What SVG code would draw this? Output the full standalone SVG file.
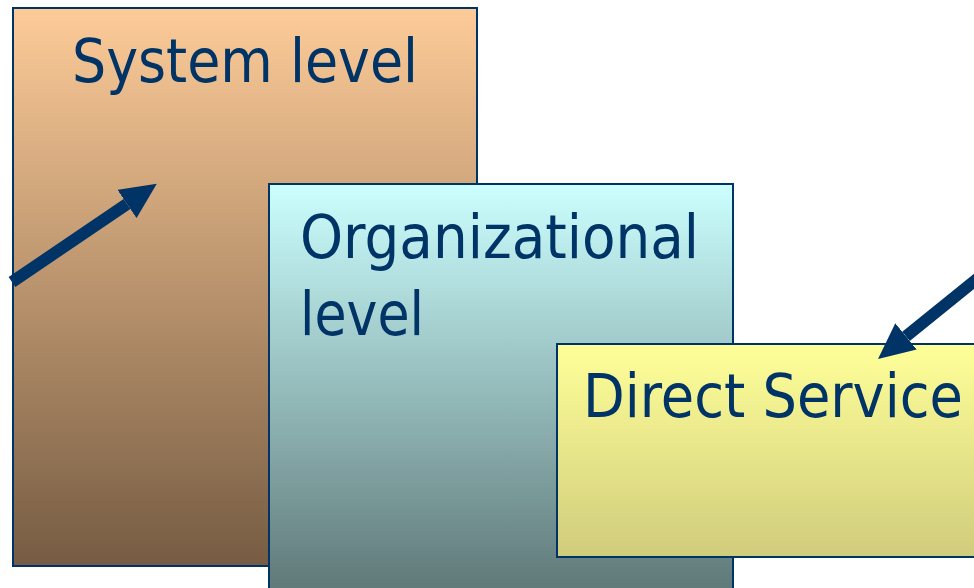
<svg xmlns="http://www.w3.org/2000/svg" width="974" height="588" viewBox="0 0 974 588">
<style>
.box{stroke:#003366;stroke-width:2}
.lbl{font-family:"DejaVu Sans Condensed","DejaVu Sans","Liberation Sans",sans-serif;font-size:61px;fill:#003366}
.arr{stroke:#003366;stroke-width:12;fill:none}
</style>
<defs>
<linearGradient id="gO" x1="0" y1="0" x2="0" y2="1"><stop offset="0" stop-color="#FDCB98"/><stop offset="1" stop-color="#765C43"/></linearGradient>
<linearGradient id="gC" x1="0" y1="0" x2="0" y2="1"><stop offset="0" stop-color="#CCFFFF"/><stop offset="1" stop-color="#5C7474"/></linearGradient>
<linearGradient id="gY" x1="0" y1="0" x2="0" y2="1"><stop offset="0" stop-color="#FFFF99"/><stop offset="1" stop-color="#D0CC7C"/></linearGradient>
<marker id="ah" markerUnits="userSpaceOnUse" markerWidth="36" markerHeight="34" refX="0" refY="17" orient="auto" viewBox="0 0 36 34"><path d="M0,0 L36,17 L0,34 z" fill="#003366"/></marker>
</defs>
<g id="system">
<rect class="box" x="13" y="8" width="464" height="558" fill="url(#gO)"/>
<text class="lbl" x="72" y="82" textLength="346" lengthAdjust="spacingAndGlyphs">System level</text>
</g>
<g id="organizational">
<rect class="box" x="269" y="184" width="464" height="420" fill="url(#gC)"/>
<text class="lbl" x="300" y="258" textLength="399" lengthAdjust="spacingAndGlyphs">Organizational</text>
<text class="lbl" x="300" y="335" textLength="124" lengthAdjust="spacingAndGlyphs">level</text>
</g>
<g id="direct">
<rect class="box" x="557" y="344" width="418" height="213" fill="url(#gY)"/>
<text class="lbl" x="583" y="417" textLength="380" lengthAdjust="spacingAndGlyphs">Direct Service</text>
</g>
<g id="connectors">
<line class="arr" x1="12" y1="282" x2="127" y2="204" marker-end="url(#ah)"/>
<line class="arr" x1="985" y1="272.5" x2="906" y2="336.4" marker-end="url(#ah)"/>
</g>
</svg>
